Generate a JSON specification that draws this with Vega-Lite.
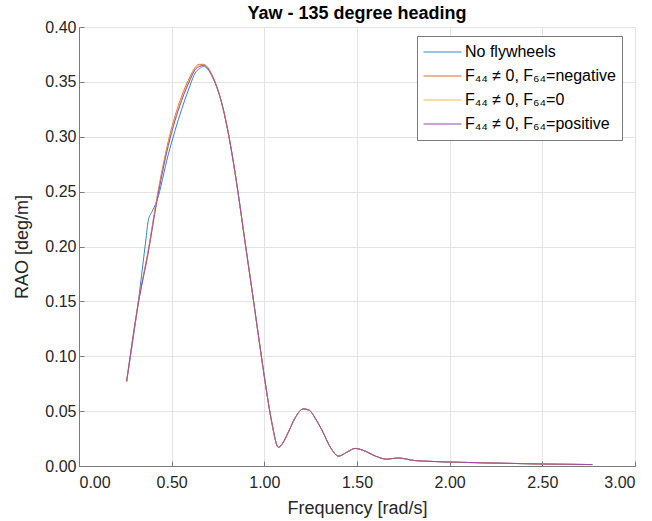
{
  "$schema": "https://vega.github.io/schema/vega-lite/v6.json",
  "width": 556,
  "height": 439,
  "autosize": {"type": "none"},
  "padding": {"left": 79, "top": 27, "right": 17, "bottom": 55},
  "background": "white",
  "config": {
    "font": "Liberation Sans",
    "view": {"stroke": null},
    "axis": {
      "domainColor": "#7a7a7a",
      "tickColor": "#7a7a7a",
      "gridColor": "#e3e3e3",
      "labelColor": "#262626",
      "titleColor": "#262626",
      "labelFontSize": 16,
      "titleFontSize": 18,
      "titleFontWeight": "normal"
    }
  },
  "title": {"text": "Yaw - 135 degree heading", "fontSize": 18, "fontWeight": "bold", "color": "#000000", "offset": -4, "frame": "group"},
  "data": {"values": [
    {"s": "No flywheels", "f": 0.257, "r": 0.077},
    {"s": "No flywheels", "f": 0.32, "r": 0.150},
    {"s": "No flywheels", "f": 0.36, "r": 0.205},
    {"s": "No flywheels", "f": 0.374, "r": 0.224},
    {"s": "No flywheels", "f": 0.392, "r": 0.231},
    {"s": "No flywheels", "f": 0.419, "r": 0.241},
    {"s": "No flywheels", "f": 0.482, "r": 0.284},
    {"s": "No flywheels", "f": 0.554, "r": 0.325},
    {"s": "No flywheels", "f": 0.600, "r": 0.347},
    {"s": "No flywheels", "f": 0.626, "r": 0.358},
    {"s": "No flywheels", "f": 0.650, "r": 0.362},
    {"s": "No flywheels", "f": 0.671, "r": 0.364},
    {"s": "No flywheels", "f": 0.719, "r": 0.355},
    {"s": "No flywheels", "f": 0.784, "r": 0.321},
    {"s": "No flywheels", "f": 0.824, "r": 0.286},
    {"s": "No flywheels", "f": 0.86, "r": 0.247},
    {"s": "No flywheels", "f": 0.896, "r": 0.204},
    {"s": "No flywheels", "f": 0.932, "r": 0.162},
    {"s": "No flywheels", "f": 0.968, "r": 0.119},
    {"s": "No flywheels", "f": 1.004, "r": 0.077},
    {"s": "No flywheels", "f": 1.04, "r": 0.040},
    {"s": "No flywheels", "f": 1.076, "r": 0.017},
    {"s": "No flywheels", "f": 1.10, "r": 0.021},
    {"s": "No flywheels", "f": 1.13, "r": 0.031},
    {"s": "No flywheels", "f": 1.17, "r": 0.045},
    {"s": "No flywheels", "f": 1.21, "r": 0.052},
    {"s": "No flywheels", "f": 1.24, "r": 0.051},
    {"s": "No flywheels", "f": 1.28, "r": 0.042},
    {"s": "No flywheels", "f": 1.31, "r": 0.033},
    {"s": "No flywheels", "f": 1.36, "r": 0.016},
    {"s": "No flywheels", "f": 1.40, "r": 0.009},
    {"s": "No flywheels", "f": 1.45, "r": 0.013},
    {"s": "No flywheels", "f": 1.49, "r": 0.016},
    {"s": "No flywheels", "f": 1.53, "r": 0.0145},
    {"s": "No flywheels", "f": 1.60, "r": 0.009},
    {"s": "No flywheels", "f": 1.66, "r": 0.0062},
    {"s": "No flywheels", "f": 1.72, "r": 0.0073},
    {"s": "No flywheels", "f": 1.81, "r": 0.0050},
    {"s": "No flywheels", "f": 1.90, "r": 0.0042},
    {"s": "No flywheels", "f": 2.00, "r": 0.0036},
    {"s": "No flywheels", "f": 2.20, "r": 0.0028},
    {"s": "No flywheels", "f": 2.50, "r": 0.0018},
    {"s": "No flywheels", "f": 2.77, "r": 0.0013},

    {"s": "F₄₄ ≠ 0, F₆₄=negative", "f": 0.257, "r": 0.077},
    {"s": "F₄₄ ≠ 0, F₆₄=negative", "f": 0.32, "r": 0.149},
    {"s": "F₄₄ ≠ 0, F₆₄=negative", "f": 0.374, "r": 0.197},
    {"s": "F₄₄ ≠ 0, F₆₄=negative", "f": 0.419, "r": 0.243},
    {"s": "F₄₄ ≠ 0, F₆₄=negative", "f": 0.482, "r": 0.296},
    {"s": "F₄₄ ≠ 0, F₆₄=negative", "f": 0.554, "r": 0.337},
    {"s": "F₄₄ ≠ 0, F₆₄=negative", "f": 0.600, "r": 0.355},
    {"s": "F₄₄ ≠ 0, F₆₄=negative", "f": 0.626, "r": 0.363},
    {"s": "F₄₄ ≠ 0, F₆₄=negative", "f": 0.650, "r": 0.366},
    {"s": "F₄₄ ≠ 0, F₆₄=negative", "f": 0.671, "r": 0.366},
    {"s": "F₄₄ ≠ 0, F₆₄=negative", "f": 0.719, "r": 0.356},
    {"s": "F₄₄ ≠ 0, F₆₄=negative", "f": 0.784, "r": 0.321},
    {"s": "F₄₄ ≠ 0, F₆₄=negative", "f": 0.824, "r": 0.286},
    {"s": "F₄₄ ≠ 0, F₆₄=negative", "f": 0.86, "r": 0.247},
    {"s": "F₄₄ ≠ 0, F₆₄=negative", "f": 0.896, "r": 0.204},
    {"s": "F₄₄ ≠ 0, F₆₄=negative", "f": 0.932, "r": 0.162},
    {"s": "F₄₄ ≠ 0, F₆₄=negative", "f": 0.968, "r": 0.119},
    {"s": "F₄₄ ≠ 0, F₆₄=negative", "f": 1.004, "r": 0.077},
    {"s": "F₄₄ ≠ 0, F₆₄=negative", "f": 1.04, "r": 0.040},
    {"s": "F₄₄ ≠ 0, F₆₄=negative", "f": 1.076, "r": 0.017},
    {"s": "F₄₄ ≠ 0, F₆₄=negative", "f": 1.10, "r": 0.021},
    {"s": "F₄₄ ≠ 0, F₆₄=negative", "f": 1.13, "r": 0.031},
    {"s": "F₄₄ ≠ 0, F₆₄=negative", "f": 1.17, "r": 0.045},
    {"s": "F₄₄ ≠ 0, F₆₄=negative", "f": 1.21, "r": 0.052},
    {"s": "F₄₄ ≠ 0, F₆₄=negative", "f": 1.24, "r": 0.051},
    {"s": "F₄₄ ≠ 0, F₆₄=negative", "f": 1.28, "r": 0.042},
    {"s": "F₄₄ ≠ 0, F₆₄=negative", "f": 1.31, "r": 0.033},
    {"s": "F₄₄ ≠ 0, F₆₄=negative", "f": 1.36, "r": 0.016},
    {"s": "F₄₄ ≠ 0, F₆₄=negative", "f": 1.40, "r": 0.009},
    {"s": "F₄₄ ≠ 0, F₆₄=negative", "f": 1.45, "r": 0.013},
    {"s": "F₄₄ ≠ 0, F₆₄=negative", "f": 1.49, "r": 0.016},
    {"s": "F₄₄ ≠ 0, F₆₄=negative", "f": 1.53, "r": 0.0145},
    {"s": "F₄₄ ≠ 0, F₆₄=negative", "f": 1.60, "r": 0.009},
    {"s": "F₄₄ ≠ 0, F₆₄=negative", "f": 1.66, "r": 0.0062},
    {"s": "F₄₄ ≠ 0, F₆₄=negative", "f": 1.72, "r": 0.0073},
    {"s": "F₄₄ ≠ 0, F₆₄=negative", "f": 1.81, "r": 0.0050},
    {"s": "F₄₄ ≠ 0, F₆₄=negative", "f": 1.90, "r": 0.0042},
    {"s": "F₄₄ ≠ 0, F₆₄=negative", "f": 2.00, "r": 0.0036},
    {"s": "F₄₄ ≠ 0, F₆₄=negative", "f": 2.20, "r": 0.0028},
    {"s": "F₄₄ ≠ 0, F₆₄=negative", "f": 2.50, "r": 0.0018},
    {"s": "F₄₄ ≠ 0, F₆₄=negative", "f": 2.77, "r": 0.0013},

    {"s": "F₄₄ ≠ 0, F₆₄=0", "f": 0.257, "r": 0.077},
    {"s": "F₄₄ ≠ 0, F₆₄=0", "f": 0.32, "r": 0.148},
    {"s": "F₄₄ ≠ 0, F₆₄=0", "f": 0.374, "r": 0.195},
    {"s": "F₄₄ ≠ 0, F₆₄=0", "f": 0.419, "r": 0.241},
    {"s": "F₄₄ ≠ 0, F₆₄=0", "f": 0.482, "r": 0.294},
    {"s": "F₄₄ ≠ 0, F₆₄=0", "f": 0.554, "r": 0.335},
    {"s": "F₄₄ ≠ 0, F₆₄=0", "f": 0.600, "r": 0.353},
    {"s": "F₄₄ ≠ 0, F₆₄=0", "f": 0.626, "r": 0.362},
    {"s": "F₄₄ ≠ 0, F₆₄=0", "f": 0.650, "r": 0.365},
    {"s": "F₄₄ ≠ 0, F₆₄=0", "f": 0.671, "r": 0.365},
    {"s": "F₄₄ ≠ 0, F₆₄=0", "f": 0.719, "r": 0.355},
    {"s": "F₄₄ ≠ 0, F₆₄=0", "f": 0.784, "r": 0.321},
    {"s": "F₄₄ ≠ 0, F₆₄=0", "f": 0.824, "r": 0.286},
    {"s": "F₄₄ ≠ 0, F₆₄=0", "f": 0.86, "r": 0.247},
    {"s": "F₄₄ ≠ 0, F₆₄=0", "f": 0.896, "r": 0.204},
    {"s": "F₄₄ ≠ 0, F₆₄=0", "f": 0.932, "r": 0.162},
    {"s": "F₄₄ ≠ 0, F₆₄=0", "f": 0.968, "r": 0.119},
    {"s": "F₄₄ ≠ 0, F₆₄=0", "f": 1.004, "r": 0.077},
    {"s": "F₄₄ ≠ 0, F₆₄=0", "f": 1.04, "r": 0.040},
    {"s": "F₄₄ ≠ 0, F₆₄=0", "f": 1.076, "r": 0.017},
    {"s": "F₄₄ ≠ 0, F₆₄=0", "f": 1.10, "r": 0.021},
    {"s": "F₄₄ ≠ 0, F₆₄=0", "f": 1.13, "r": 0.031},
    {"s": "F₄₄ ≠ 0, F₆₄=0", "f": 1.17, "r": 0.045},
    {"s": "F₄₄ ≠ 0, F₆₄=0", "f": 1.21, "r": 0.052},
    {"s": "F₄₄ ≠ 0, F₆₄=0", "f": 1.24, "r": 0.051},
    {"s": "F₄₄ ≠ 0, F₆₄=0", "f": 1.28, "r": 0.042},
    {"s": "F₄₄ ≠ 0, F₆₄=0", "f": 1.31, "r": 0.033},
    {"s": "F₄₄ ≠ 0, F₆₄=0", "f": 1.36, "r": 0.016},
    {"s": "F₄₄ ≠ 0, F₆₄=0", "f": 1.40, "r": 0.009},
    {"s": "F₄₄ ≠ 0, F₆₄=0", "f": 1.45, "r": 0.013},
    {"s": "F₄₄ ≠ 0, F₆₄=0", "f": 1.49, "r": 0.016},
    {"s": "F₄₄ ≠ 0, F₆₄=0", "f": 1.53, "r": 0.0145},
    {"s": "F₄₄ ≠ 0, F₆₄=0", "f": 1.60, "r": 0.009},
    {"s": "F₄₄ ≠ 0, F₆₄=0", "f": 1.66, "r": 0.0062},
    {"s": "F₄₄ ≠ 0, F₆₄=0", "f": 1.72, "r": 0.0073},
    {"s": "F₄₄ ≠ 0, F₆₄=0", "f": 1.81, "r": 0.0050},
    {"s": "F₄₄ ≠ 0, F₆₄=0", "f": 1.90, "r": 0.0042},
    {"s": "F₄₄ ≠ 0, F₆₄=0", "f": 2.00, "r": 0.0036},
    {"s": "F₄₄ ≠ 0, F₆₄=0", "f": 2.20, "r": 0.0028},
    {"s": "F₄₄ ≠ 0, F₆₄=0", "f": 2.50, "r": 0.0018},
    {"s": "F₄₄ ≠ 0, F₆₄=0", "f": 2.77, "r": 0.0013},

    {"s": "F₄₄ ≠ 0, F₆₄=positive", "f": 0.257, "r": 0.077},
    {"s": "F₄₄ ≠ 0, F₆₄=positive", "f": 0.32, "r": 0.148},
    {"s": "F₄₄ ≠ 0, F₆₄=positive", "f": 0.374, "r": 0.195},
    {"s": "F₄₄ ≠ 0, F₆₄=positive", "f": 0.419, "r": 0.240},
    {"s": "F₄₄ ≠ 0, F₆₄=positive", "f": 0.482, "r": 0.292},
    {"s": "F₄₄ ≠ 0, F₆₄=positive", "f": 0.554, "r": 0.333},
    {"s": "F₄₄ ≠ 0, F₆₄=positive", "f": 0.600, "r": 0.352},
    {"s": "F₄₄ ≠ 0, F₆₄=positive", "f": 0.626, "r": 0.361},
    {"s": "F₄₄ ≠ 0, F₆₄=positive", "f": 0.650, "r": 0.364},
    {"s": "F₄₄ ≠ 0, F₆₄=positive", "f": 0.671, "r": 0.365},
    {"s": "F₄₄ ≠ 0, F₆₄=positive", "f": 0.719, "r": 0.355},
    {"s": "F₄₄ ≠ 0, F₆₄=positive", "f": 0.784, "r": 0.321},
    {"s": "F₄₄ ≠ 0, F₆₄=positive", "f": 0.824, "r": 0.286},
    {"s": "F₄₄ ≠ 0, F₆₄=positive", "f": 0.86, "r": 0.247},
    {"s": "F₄₄ ≠ 0, F₆₄=positive", "f": 0.896, "r": 0.204},
    {"s": "F₄₄ ≠ 0, F₆₄=positive", "f": 0.932, "r": 0.162},
    {"s": "F₄₄ ≠ 0, F₆₄=positive", "f": 0.968, "r": 0.119},
    {"s": "F₄₄ ≠ 0, F₆₄=positive", "f": 1.004, "r": 0.077},
    {"s": "F₄₄ ≠ 0, F₆₄=positive", "f": 1.04, "r": 0.040},
    {"s": "F₄₄ ≠ 0, F₆₄=positive", "f": 1.076, "r": 0.017},
    {"s": "F₄₄ ≠ 0, F₆₄=positive", "f": 1.10, "r": 0.021},
    {"s": "F₄₄ ≠ 0, F₆₄=positive", "f": 1.13, "r": 0.031},
    {"s": "F₄₄ ≠ 0, F₆₄=positive", "f": 1.17, "r": 0.045},
    {"s": "F₄₄ ≠ 0, F₆₄=positive", "f": 1.21, "r": 0.052},
    {"s": "F₄₄ ≠ 0, F₆₄=positive", "f": 1.24, "r": 0.051},
    {"s": "F₄₄ ≠ 0, F₆₄=positive", "f": 1.28, "r": 0.042},
    {"s": "F₄₄ ≠ 0, F₆₄=positive", "f": 1.31, "r": 0.033},
    {"s": "F₄₄ ≠ 0, F₆₄=positive", "f": 1.36, "r": 0.016},
    {"s": "F₄₄ ≠ 0, F₆₄=positive", "f": 1.40, "r": 0.009},
    {"s": "F₄₄ ≠ 0, F₆₄=positive", "f": 1.45, "r": 0.013},
    {"s": "F₄₄ ≠ 0, F₆₄=positive", "f": 1.49, "r": 0.016},
    {"s": "F₄₄ ≠ 0, F₆₄=positive", "f": 1.53, "r": 0.0145},
    {"s": "F₄₄ ≠ 0, F₆₄=positive", "f": 1.60, "r": 0.009},
    {"s": "F₄₄ ≠ 0, F₆₄=positive", "f": 1.66, "r": 0.0062},
    {"s": "F₄₄ ≠ 0, F₆₄=positive", "f": 1.72, "r": 0.0073},
    {"s": "F₄₄ ≠ 0, F₆₄=positive", "f": 1.81, "r": 0.0050},
    {"s": "F₄₄ ≠ 0, F₆₄=positive", "f": 1.90, "r": 0.0042},
    {"s": "F₄₄ ≠ 0, F₆₄=positive", "f": 2.00, "r": 0.0036},
    {"s": "F₄₄ ≠ 0, F₆₄=positive", "f": 2.20, "r": 0.0028},
    {"s": "F₄₄ ≠ 0, F₆₄=positive", "f": 2.50, "r": 0.0018},
    {"s": "F₄₄ ≠ 0, F₆₄=positive", "f": 2.77, "r": 0.0013}
  ]},
  "mark": {"type": "line", "strokeWidth": 1, "interpolate": "monotone"},
  "encoding": {
    "x": {
      "field": "f", "type": "quantitative",
      "scale": {"domain": [0, 3], "nice": false, "zero": false},
      "axis": {"title": "Frequency [rad/s]", "values": [0, 0.5, 1, 1.5, 2, 2.5, 3], "format": ".2f", "tickSize": -5, "labelPadding": 13, "titlePadding": 9}
    },
    "y": {
      "field": "r", "type": "quantitative",
      "scale": {"domain": [0, 0.4], "nice": false},
      "axis": {"title": "RAO [deg/m]", "values": [0, 0.05, 0.1, 0.15, 0.2, 0.25, 0.3, 0.35, 0.4], "format": ".2f", "tickSize": -5, "labelPadding": 8, "titlePadding": 13}
    },
    "color": {
      "field": "s", "type": "nominal",
      "scale": {
        "domain": ["No flywheels", "F₄₄ ≠ 0, F₆₄=negative", "F₄₄ ≠ 0, F₆₄=0", "F₄₄ ≠ 0, F₆₄=positive"],
        "range": ["#2f86cc", "#dd6a33", "#efbd4a", "#9a4aaa"]
      },
      "legend": {
        "title": null,
        "orient": "none",
        "legendX": 338,
        "legendY": 9,
        "symbolType": "stroke",
        "symbolSize": 1444,
        "symbolStrokeWidth": 1,
        "clipHeight": 20,
        "rowPadding": 4,
        "labelFontSize": 16,
        "labelColor": "#000000",
        "labelOffset": 3,
        "labelLimit": 300,
        "strokeColor": "#7a7a7a",
        "fillColor": "white",
        "padding": 6
      }
    },
    "order": {"field": "s"}
  }
}
